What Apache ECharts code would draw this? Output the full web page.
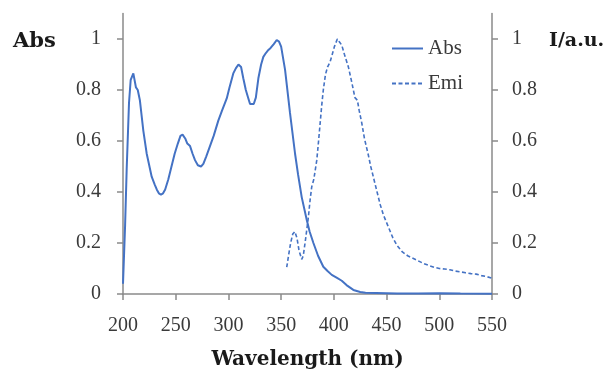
<!DOCTYPE html>
<html>
<head>
<meta charset="utf-8">
<script src="https://cdn.jsdelivr.net/npm/echarts@6/dist/echarts.min.js"></script>
<style>
  html, body { margin: 0; padding: 0; background: #fff; }
  #chart-container { width: 608px; height: 371px; }
</style>
</head>
<body>
<div id="chart-container"></div>
<script>
// absorption spectrum (left axis)
const absWavelength = [200, 202, 203.5, 205.7, 207.3, 209.8, 212.3, 214, 216, 219.3, 222.5, 227.2, 230, 232, 234, 236, 238, 240, 243, 246, 249, 252, 254.5, 256.5, 259, 261, 263.6, 266, 268.3, 271, 274, 276.2, 279, 282.5, 286, 290.4, 294, 298.4, 301, 304.6, 307, 309.5, 312, 314.1, 316.5, 318.9, 320.5, 322.1, 324, 326, 328.4, 331, 333.1, 335.5, 337.9, 340, 343, 345.8, 348, 350, 353.7, 358.4, 363.2, 366, 369.5, 374.3, 377, 380.6, 385, 390, 394, 398, 403, 407.5, 412, 418.5, 425, 430, 440, 450, 460, 480, 500, 520, 550];
const absValues = [0.04, 0.27, 0.49, 0.75, 0.84, 0.865, 0.81, 0.8, 0.76, 0.64, 0.55, 0.46, 0.43, 0.41, 0.395, 0.39, 0.395, 0.41, 0.45, 0.5, 0.55, 0.59, 0.62, 0.625, 0.61, 0.59, 0.58, 0.55, 0.525, 0.505, 0.5, 0.51, 0.54, 0.58, 0.62, 0.68, 0.72, 0.767, 0.81, 0.865, 0.885, 0.9, 0.89, 0.846, 0.8, 0.767, 0.745, 0.741, 0.745, 0.77, 0.846, 0.9, 0.93, 0.945, 0.957, 0.965, 0.98, 0.996, 0.99, 0.97, 0.88, 0.71, 0.55, 0.47, 0.38, 0.29, 0.245, 0.2, 0.15, 0.107, 0.09, 0.075, 0.063, 0.052, 0.035, 0.016, 0.008, 0.005, 0.004, 0.003, 0.002, 0.002, 0.003, 0.002, 0.001];

// emission spectrum (right axis)
const emiWavelength = [355.3, 357, 359, 361, 363, 365, 367, 369.5, 371, 373, 375.8, 377.5, 379, 381, 383.8, 385.5, 387, 388.5, 390, 392, 394, 396.4, 398.5, 400.5, 403.3, 405, 407.5, 410, 413.8, 417, 420, 422.3, 424, 426.5, 429, 432.7, 435, 438, 441, 444, 447, 450, 453, 456, 460, 465, 470, 475, 480, 485, 490, 495, 500, 505, 510, 515, 520, 525, 530, 535, 540, 545, 550];
const emiValues = [0.105, 0.15, 0.2, 0.235, 0.245, 0.22, 0.17, 0.136, 0.15, 0.21, 0.3, 0.37, 0.42, 0.45, 0.525, 0.6, 0.67, 0.74, 0.8, 0.86, 0.89, 0.91, 0.94, 0.97, 1.0, 0.99, 0.976, 0.94, 0.89, 0.83, 0.77, 0.76, 0.72, 0.67, 0.61, 0.545, 0.5, 0.45, 0.4, 0.35, 0.31, 0.28, 0.25, 0.22, 0.19, 0.165, 0.15, 0.14, 0.13, 0.12, 0.112, 0.105, 0.1, 0.098, 0.095, 0.09, 0.087, 0.083, 0.08, 0.078, 0.072, 0.068, 0.062];

const yTicks = [0, 0.2, 0.4, 0.6, 0.8, 1];

const chart = echarts.init(document.getElementById("chart-container"));

const lineColor = "#4472C4";
const axisColor = "#8a8a8a";
const labelFont = { fontFamily: "Liberation Serif", fontSize: 20, color: "#3a3a3a" };

function yAxisOpt(pos, margin) {
    return {
        type: "value",
        position: pos,
        min: 0,
        max: 1.1,
        interval: 0.2,
        splitLine: { show: false },
        axisLine: { show: true, lineStyle: { color: axisColor, width: 1.5 } },
        axisTick: { show: true, length: 6, customValues: yTicks, lineStyle: { color: axisColor, width: 1.5 } },
        axisLabel: Object.assign({ margin: margin, customValues: yTicks }, labelFont)
    };
}

const options = {
    animation: false,
    grid: { left: 123, right: 116, top: 13.5, bottom: 77, containLabel: false, outerBoundsMode: "none" },
    legend: {
        orient: "vertical",
        left: 391,
        top: 38,
        padding: 0,
        itemWidth: 31,
        itemHeight: 14,
        itemGap: 14,
        // line only, no marker on the legend sample
        itemStyle: { opacity: 0 },
        textStyle: { fontFamily: "Liberation Serif", fontSize: 21, color: "#3a3a3a" },
        data: ["Abs", "Emi"]
    },
    xAxis: {
        type: "value",
        min: 200,
        max: 550,
        interval: 50,
        name: "Wavelength (nm)",
        nameLocation: "middle",
        nameGap: 56,
        nameTextStyle: { fontFamily: "DejaVu Serif", fontWeight: "bold", fontSize: 20, color: "#1a1a1a" },
        splitLine: { show: false },
        axisLine: { show: true, lineStyle: { color: axisColor, width: 1.5 } },
        axisTick: { show: true, length: 6, lineStyle: { color: axisColor, width: 1.5 } },
        axisLabel: Object.assign({ margin: 22 }, labelFont)
    },
    yAxis: [yAxisOpt("left", 22), yAxisOpt("right", 20)],
    graphic: [
        { type: "text", left: 13, top: 31, style: { text: "Abs", font: "bold 21px 'DejaVu Serif'", fill: "#1a1a1a" } },
        { type: "text", left: 549, top: 32, style: { text: "I/a.u.", font: "bold 19px 'DejaVu Serif'", fill: "#1a1a1a" } }
    ],
    series: [
        {
            name: "Abs",
            type: "line",
            yAxisIndex: 0,
            showSymbol: false,
            symbol: "none",
            lineStyle: { color: lineColor, width: 2 },
            itemStyle: { color: lineColor },
            data: absWavelength.map((w, i) => [w, absValues[i]])
        },
        {
            name: "Emi",
            type: "line",
            yAxisIndex: 1,
            showSymbol: false,
            symbol: "none",
            lineStyle: { color: lineColor, width: 1.6, type: [4, 2.5] },
            itemStyle: { color: lineColor },
            data: emiWavelength.map((w, i) => [w, emiValues[i]])
        }
    ]
};

chart.setOption(options);
</script>
</body>
</html>
